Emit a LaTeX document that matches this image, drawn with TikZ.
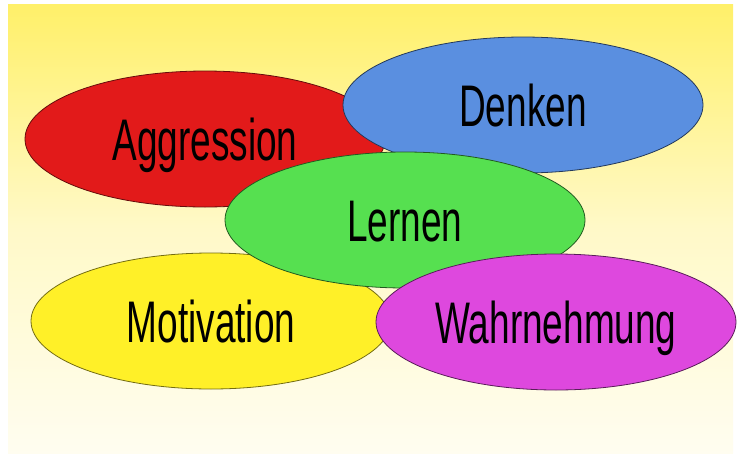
\documentclass[tikz,border=0pt]{standalone}
\usepackage{fontspec}
\setmainfont{Liberation Sans}
\usetikzlibrary{shapes.geometric}
\definecolor{aggred}{RGB}{226,26,26}
\definecolor{denkblue}{RGB}{90,143,224}
\definecolor{lerngreen}{RGB}{86,224,80}
\definecolor{motiyellow}{RGB}{255,240,40}
\definecolor{wahrmag}{RGB}{222,72,222}
\definecolor{bgtop}{RGB}{255,240,105}
\definecolor{bgmid}{RGB}{255,249,200}
\definecolor{bgbot}{RGB}{255,253,240}
\def\topicnode{\node[ellipse,inner sep=0pt,minimum width=360pt,minimum height=136pt,line width=0.8pt,text height=42pt,text depth=0pt,font=\fontsize{58.7}{60}\selectfont]}

\begin{document}
\begin{tikzpicture}[x=1pt,y=-1pt]
\useasboundingbox (0,0) rectangle (742,453);
\fill[white] (0,0) rectangle (742,453);
\shade[top color=bgtop,bottom color=bgbot,middle color=bgmid] (8,4) rectangle (733,453);
\topicnode[fill=aggred,draw=aggred!45!black] (aggression) at (205,139) {\scalebox{0.63}[1]{Aggression}};
\topicnode[fill=denkblue,draw=denkblue!40!black] (denken) at (523,105) {\scalebox{0.63}[1]{Denken}};
\topicnode[fill=motiyellow,draw=motiyellow!45!black] (motivation) at (211,321) {\scalebox{0.63}[1]{Motivation}};
\topicnode[fill=lerngreen,draw=lerngreen!40!black] (lernen) at (405,220) {\scalebox{0.63}[1]{Lernen}};
\topicnode[fill=wahrmag,draw=wahrmag!40!black] (wahrnehmung) at (556,322) {\scalebox{0.63}[1]{Wahrnehmung}};
\end{tikzpicture}
\end{document}
